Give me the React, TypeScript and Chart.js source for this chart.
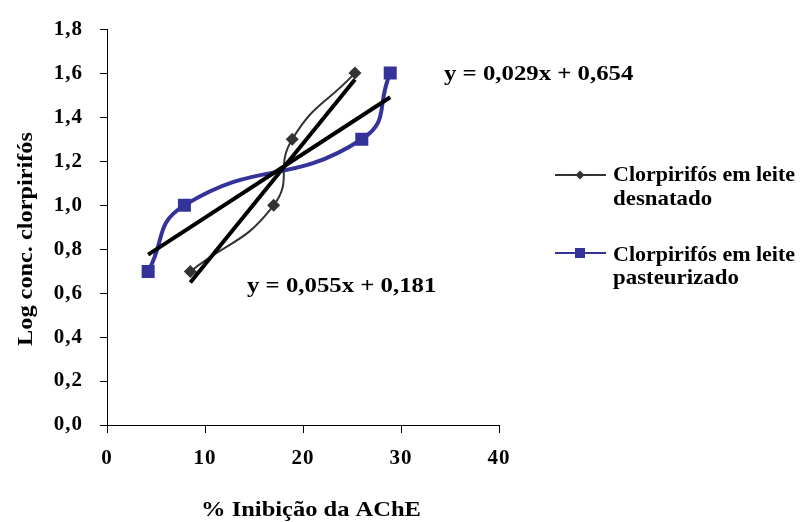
import React, { useEffect, useRef } from "react";
import { Chart, registerables } from "chart.js";

Chart.register(...registerables);

// ---- data ----
const desnatadoX = [8.5, 17.0, 18.9, 25.3];
const desnatadoY = [0.699, 1.0, 1.301, 1.602];
const pasteurizadoX = [4.2, 7.9, 26.0, 28.9];
const pasteurizadoY = [0.699, 1.0, 1.301, 1.602];

const seriesNames = ["Clorpirifós em leite desnatado", "Clorpirifós em leite pasteurizado"];
const legendLines = [
  ["Clorpirifós em leite", "desnatado"],
  ["Clorpirifós em leite", "pasteurizado"],
];

const trendSlopes = [0.055, 0.029];
const trendIntercepts = [0.181, 0.654];
const trendLabels = ["y = 0,055x + 0,181", "y = 0,029x + 0,654"];

const xTicks = [0, 10, 20, 30, 40];
const yTicks = [0, 0.2, 0.4, 0.6, 0.8, 1.0, 1.2, 1.4, 1.6, 1.8];

const xTitle = "% Inibição da AChE";
const yTitle = "Log conc. clorpirifós";

// ---- styles ----
const FONT = "'Liberation Serif', 'Times New Roman', serif";
const DARK = "#333333";
const BLUE = "#333399";

function trendPoints(xs: number[], i: number) {
  const lo = Math.min(...xs);
  const hi = Math.max(...xs);
  return [
    { x: lo, y: trendSlopes[i] * lo + trendIntercepts[i] },
    { x: hi, y: trendSlopes[i] * hi + trendIntercepts[i] },
  ];
}

function wideText(
  ctx: CanvasRenderingContext2D,
  text: string,
  x: number,
  y: number,
  sx: number,
  align: CanvasTextAlign,
  rot = 0
) {
  ctx.save();
  ctx.translate(x, y);
  if (rot) ctx.rotate(rot);
  ctx.scale(sx, 1);
  ctx.textAlign = align;
  ctx.textBaseline = "alphabetic";
  ctx.fillText(text, 0, 0);
  ctx.restore();
}

const spacingPlugin = {
  id: "spacing",
  beforeDraw(chart: any) {
    (chart.ctx as any).letterSpacing = "1px";
  },
};

const annotPlugin = {
  id: "annot",
  afterDraw(chart: any) {
    const ctx = chart.ctx as CanvasRenderingContext2D;
    ctx.save();
    (ctx as any).letterSpacing = "0px";
    ctx.fillStyle = "#000";

    // axis titles
    ctx.font = `bold 21px ${FONT}`;
    wideText(ctx, xTitle, 311, 516, 1.167, "center");
    wideText(ctx, yTitle, 32, 239, 1.157, "center", -Math.PI / 2);

    // equations
    wideText(ctx, trendLabels[1], 444, 80, 1.18, "left");
    wideText(ctx, trendLabels[0], 247, 292, 1.18, "left");

    // legend
    const lineYs = [175, 253];
    const baseYs = [
      [181, 205],
      [261, 284],
    ];
    const colors = [DARK, BLUE];
    ctx.font = `bold 22px ${FONT}`;
    for (let i = 0; i < 2; i++) {
      const ly = lineYs[i];
      ctx.strokeStyle = colors[i];
      ctx.lineWidth = 2;
      ctx.beginPath();
      ctx.moveTo(555, ly);
      ctx.lineTo(606, ly);
      ctx.stroke();
      ctx.fillStyle = colors[i];
      ctx.beginPath();
      if (i === 0) {
        const r = 4.5;
        ctx.moveTo(580, ly - r);
        ctx.lineTo(580 + r, ly);
        ctx.lineTo(580, ly + r);
        ctx.lineTo(580 - r, ly);
        ctx.closePath();
      } else {
        ctx.rect(575, ly - 5, 10, 10);
      }
      ctx.fill();
      ctx.fillStyle = "#000";
      wideText(ctx, legendLines[i][0], 613, baseYs[i][0], 1.0, "left");
      wideText(ctx, legendLines[i][1], 613, baseYs[i][1], 1.04, "left");
    }
    ctx.restore();
  },
};

export default function App() {
  const ref = useRef<HTMLCanvasElement | null>(null);

  useEffect(() => {
    if (!ref.current) return;
    const chart = new Chart(ref.current, {
      type: "scatter",
      data: {
        datasets: [
          {
            label: "trend desnatado",
            data: trendPoints(desnatadoX, 0),
            showLine: true,
            borderColor: "#000",
            borderWidth: 4,
            pointRadius: 0,
            tension: 0,
            order: 0,
          },
          {
            label: "trend pasteurizado",
            data: trendPoints(pasteurizadoX, 1),
            showLine: true,
            borderColor: "#000",
            borderWidth: 4,
            pointRadius: 0,
            tension: 0,
            order: 0,
          },
          {
            label: seriesNames[1],
            data: pasteurizadoX.map((x, i) => ({ x, y: pasteurizadoY[i] })),
            showLine: true,
            borderColor: BLUE,
            backgroundColor: BLUE,
            borderWidth: 4,
            pointStyle: "rect",
            pointRadius: 9.2,
            pointBackgroundColor: BLUE,
            pointBorderColor: BLUE,
            pointBorderWidth: 0,
            tension: 0.5,
            order: 1,
          },
          {
            label: seriesNames[0],
            data: desnatadoX.map((x, i) => ({ x, y: desnatadoY[i] })),
            showLine: true,
            borderColor: DARK,
            backgroundColor: DARK,
            borderWidth: 2,
            pointStyle: "rectRot",
            pointRadius: 6.5,
            pointBackgroundColor: DARK,
            pointBorderColor: DARK,
            pointBorderWidth: 0,
            tension: 0.5,
            order: 2,
          },
        ],
      },
      options: {
        responsive: false,
        animation: false,
        devicePixelRatio: 1,
        layout: { padding: { left: 0, top: 23, right: 302, bottom: 0 } },
        plugins: {
          legend: { display: false },
          tooltip: { enabled: false },
        },
        scales: {
          x: {
            type: "linear",
            min: xTicks[0],
            max: xTicks[xTicks.length - 1],
            afterBuildTicks: (s: any) => {
              s.ticks = xTicks.map((v) => ({ value: v }));
            },
            afterFit: (s: any) => {
              s.height = 97;
            },
            ticks: {
              color: "#000",
              font: { family: FONT, size: 21, weight: "bold" },
              padding: 13,
              maxRotation: 0,
              callback: (v: any) => String(v),
            },
            grid: {
              display: true,
              drawOnChartArea: false,
              drawTicks: true,
              tickLength: 8,
              color: "#000",
              lineWidth: 1,
            },
            border: { display: true, color: "#000", width: 1 },
            title: { display: false },
          },
          y: {
            type: "linear",
            min: yTicks[0],
            max: yTicks[yTicks.length - 1],
            afterBuildTicks: (s: any) => {
              s.ticks = yTicks.map((v) => ({ value: v }));
            },
            afterFit: (s: any) => {
              s.width = 107;
            },
            ticks: {
              color: "#000",
              font: { family: FONT, size: 21, weight: "bold" },
              padding: 17,
              callback: (v: any) => Number(v).toFixed(1).replace(".", ","),
            },
            grid: {
              display: true,
              drawOnChartArea: false,
              drawTicks: true,
              tickLength: 7,
              color: "#000",
              lineWidth: 1,
            },
            border: { display: true, color: "#000", width: 1 },
            title: { display: false },
          },
        },
      },
      plugins: [spacingPlugin, annotPlugin],
    } as any);
    return () => chart.destroy();
  }, []);

  return (
    <div style={{ position: "absolute", left: 0, top: 0, width: 801, height: 522, background: "#fff" }}>
      <canvas ref={ref} width={801} height={522} />
    </div>
  );
}
